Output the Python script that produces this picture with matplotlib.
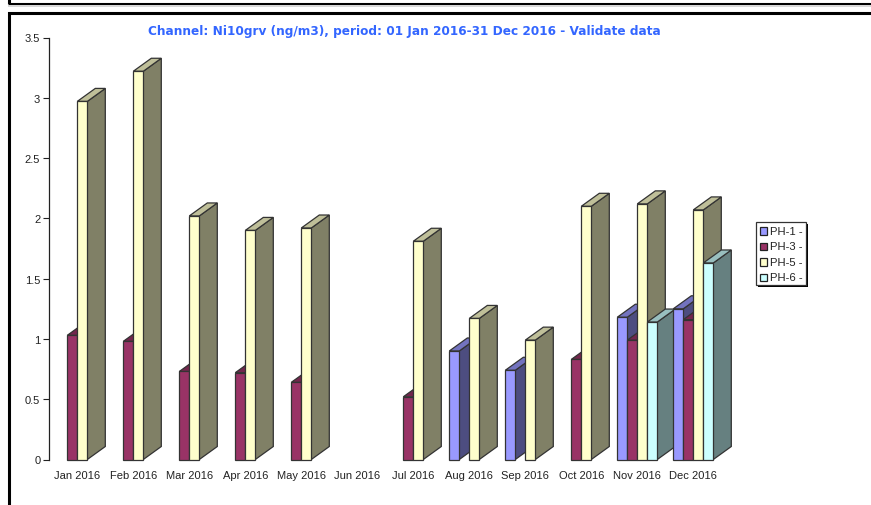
import matplotlib
matplotlib.use("Agg")
import matplotlib.pyplot as plt
from matplotlib.patches import Rectangle

months = ["Jan 2016", "Feb 2016", "Mar 2016", "Apr 2016", "May 2016", "Jun 2016",
          "Jul 2016", "Aug 2016", "Sep 2016", "Oct 2016", "Nov 2016", "Dec 2016"]
series_names = ["PH-1 -", "PH-3 -", "PH-5 -", "PH-6 -"]

ph1 = [0, 0, 0, 0, 0, 0, 0, 0.90, 0.74, 0, 1.18, 1.25]
ph3 = [1.03, 0.98, 0.73, 0.72, 0.64, 0, 0.52, 0, 0, 0.83, 0.99, 1.16]
ph5 = [2.97, 3.22, 2.02, 1.90, 1.92, 0, 1.81, 1.17, 0.99, 2.10, 2.12, 2.07]
ph6 = [0, 0, 0, 0, 0, 0, 0, 0, 0, 0, 1.14, 1.63]
series = [ph1, ph3, ph5, ph6]

front_colors = ["#9999ff", "#993366", "#ffffcc", "#ccffff"]
top_colors = ["#7373bf", "#73264d", "#bfbf99", "#99bfbf"]
side_colors = ["#4d4d80", "#4d1a33", "#808066", "#668080"]

W, H = 871, 506
BAR_W = 10 / 56
DX = 18 / 56
DY = 13 / 120.6

fig = plt.figure(figsize=(W / 100, H / 100), dpi=100, facecolor="white")
plt.rcParams["font.family"] = ["Liberation Sans", "DejaVu Sans"]


def px_rect(x, y, w, h, **kw):
    # rectangle given in image pixels, y measured from the top
    fig.add_artist(Rectangle((x / W, 1 - (y + h) / H), w / W, h / H,
                             transform=fig.transFigure, **kw))


# page frames
px_rect(8.5, -10, 880, 14.5, fill=False, edgecolor="black", linewidth=2.2)
px_rect(8, 5.5, 880, 2, facecolor="#d8d8d8", edgecolor="none")
px_rect(8.5, 13.5, 880, 520, fill=False, edgecolor="black", linewidth=2.2)

ax = fig.add_axes([49.3 / W, 1 - 460.5 / H, 672 / W, 422 / H])
ax.patch.set_alpha(0)
ax.set_xlim(-0.5, 11.5)
ax.set_ylim(0, 3.5)

for i in range(len(months)):
    for s, vals in enumerate(series):
        v = vals[i]
        if v == 0:
            continue
        x0 = i + (s - 2) * BAR_W
        x1 = x0 + BAR_W
        edge = "#333333"
        ax.fill([x1, x1 + DX, x1 + DX, x1], [0, DY, v + DY, v],
                facecolor=side_colors[s], edgecolor=edge, linewidth=0.9, clip_on=False)
        ax.fill([x0, x1, x1 + DX, x0 + DX], [v, v, v + DY, v + DY],
                facecolor=top_colors[s], edgecolor=edge, linewidth=0.9, clip_on=False)
        ax.bar(x0, v, BAR_W, align="edge", color=front_colors[s], edgecolor=edge,
               linewidth=0.9, clip_on=False)

for side in ["top", "right", "bottom"]:
    ax.spines[side].set_visible(False)
ax.spines["left"].set_linewidth(0.9)
ax.spines["left"].set_color("#222222")

ax.set_yticks([0, 0.5, 1, 1.5, 2, 2.5, 3, 3.5])
ax.set_yticklabels(["0", "0.5", "1", "1.5", "2", "2.5", "3", "3.5"], fontsize=8, color="#222222")
ax.tick_params(axis="y", length=4.3, width=0.8, pad=2.2, color="#222222")
ax.set_xticks(range(len(months)))
ax.set_xticklabels(months, fontsize=8, color="#222222")
ax.tick_params(axis="x", length=0, pad=7.5)

fig.text(404.5 / W, 1 - 31.5 / H, "Channel: Ni10grv (ng/m3), period: 01 Jan 2016-31 Dec 2016 - Validate data",
         family="DejaVu Sans", fontweight="bold", fontsize=8.76, color="#3366ff",
         ha="center", va="center")

# legend
px_rect(758, 225, 50, 63, facecolor="black", edgecolor="none")
px_rect(755.5, 222.5, 50, 63, facecolor="white", edgecolor="#333333", linewidth=0.9)
for s, name in enumerate(series_names):
    y = 228 + s * 15.5
    px_rect(759.5, y, 7.5, 7.5, facecolor=front_colors[s], edgecolor="#222222", linewidth=0.9)
    fig.text(770 / W, 1 - (y + 3.8) / H, name, fontsize=8.1, color="#222222", ha="left", va="center")

fig.savefig("out.png", dpi=100)
